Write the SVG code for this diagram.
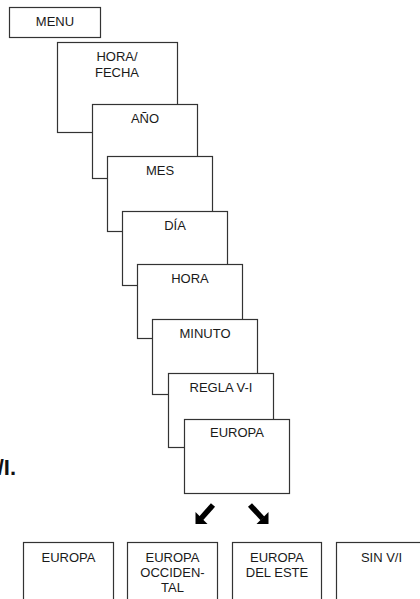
<svg xmlns="http://www.w3.org/2000/svg" width="420" height="599" viewBox="0 0 420 599">
<style>
.b{fill:#fff;stroke:#333;stroke-width:1.2}
.t{font-family:"Liberation Sans",Arial,sans-serif;font-size:13px;fill:#1a1a1a;text-anchor:middle}
.a{fill:#000}
</style>
<rect width="420" height="599" fill="#fff"/>
<g id="menu"><rect class="b" x="9.5" y="7.5" width="91" height="30"/><text class="t" x="55" y="26">MENU</text></g>
<g id="hora-fecha"><rect class="b" x="57.5" y="42.5" width="120" height="90"/><text class="t" x="117" y="61">HORA/</text><text class="t" x="117" y="77">FECHA</text></g>
<g id="anio"><rect class="b" x="92.5" y="104.5" width="105" height="74"/><text class="t" x="145" y="122.5">AÑO</text></g>
<g id="mes"><rect class="b" x="107.5" y="156.5" width="105" height="75"/><text class="t" x="160" y="175">MES</text></g>
<g id="dia"><rect class="b" x="122.5" y="211.5" width="105" height="74"/><text class="t" x="175" y="229.5">DÍA</text></g>
<g id="hora"><rect class="b" x="137.5" y="264.5" width="105" height="74"/><text class="t" x="190" y="282.5">HORA</text></g>
<g id="minuto"><rect class="b" x="152.5" y="319.5" width="105" height="75"/><text class="t" x="205" y="337.5">MINUTO</text></g>
<g id="regla"><rect class="b" x="168.5" y="373.5" width="105" height="74"/><text class="t" x="221" y="391.5">REGLA V-I</text></g>
<g id="europa-main"><rect class="b" x="184.5" y="419.5" width="105" height="74"/><text class="t" x="237" y="437">EUROPA</text></g>
<text x="16" y="475" font-family="'Liberation Sans',Arial,sans-serif" font-size="22" font-weight="bold" text-anchor="end" fill="#111">V/I.</text>
<g id="connectors">
<line x1="213" y1="505" x2="201" y2="518.5" stroke="#000" stroke-width="5.5"/>
<polygon class="a" points="195.5,524 195.5,512 207.5,524"/>
<line x1="250" y1="505" x2="262.5" y2="518.5" stroke="#000" stroke-width="5.5"/>
<polygon class="a" points="268.5,524 268.5,512 256.5,524"/>
</g>
<g id="opt-europa"><rect class="b" x="23.5" y="542.5" width="90" height="80"/><text class="t" x="68.5" y="562">EUROPA</text></g>
<g id="opt-occidental"><rect class="b" x="127.5" y="542.5" width="90" height="80"/><text class="t" x="172.5" y="562">EUROPA</text><text class="t" x="172.5" y="577">OCCIDEN-</text><text class="t" x="172.5" y="592">TAL</text></g>
<g id="opt-este"><rect class="b" x="232.5" y="542.5" width="89" height="80"/><text class="t" x="277" y="562">EUROPA</text><text class="t" x="277" y="577">DEL ESTE</text></g>
<g id="opt-sin"><rect class="b" x="336.5" y="542.5" width="90" height="80"/><text class="t" x="381.5" y="562">SIN V/I</text></g>
</svg>
